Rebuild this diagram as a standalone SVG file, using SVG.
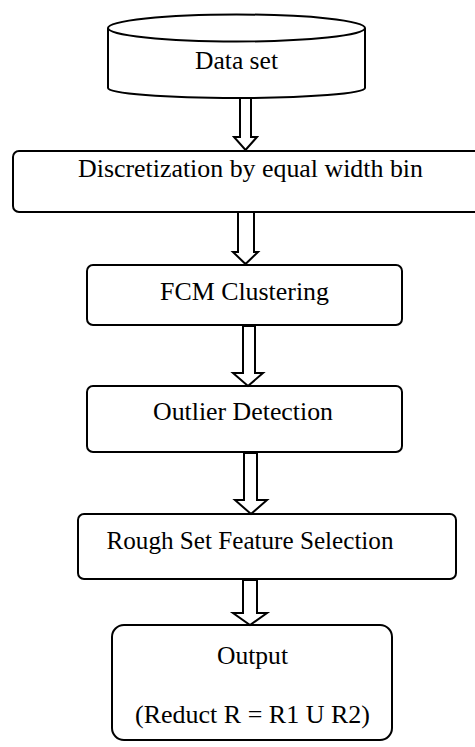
<svg xmlns="http://www.w3.org/2000/svg" width="475" height="747" viewBox="0 0 475 747">
<style>
.box{fill:#fff;stroke:#000;stroke-width:2}
.arr{fill:#fff;stroke:#000;stroke-width:2;stroke-linejoin:miter}
.t{font-family:'Liberation Serif','Times New Roman',Times,serif;font-size:25px;fill:#000;text-anchor:middle}
</style>
<rect width="475" height="747" fill="#fff"/>
<g id="dataset">
<path class="box" d="M108,28 L108,88 A128.5,10 0 0 0 365,88 L365,28"/>
<ellipse class="box" cx="236.5" cy="28" rx="128.5" ry="13.5"/>
<text class="t" x="236.5" y="69" textLength="83" lengthAdjust="spacingAndGlyphs">Data set</text>
</g>
<g id="discretization">
<rect class="box" x="13" y="151" width="470" height="61" rx="6"/>
<text class="t" x="250.5" y="177" textLength="345" lengthAdjust="spacingAndGlyphs">Discretization by equal width bin</text>
</g>
<g id="fcm">
<rect class="box" x="87" y="265" width="315" height="60" rx="6"/>
<text class="t" x="244.5" y="300" textLength="169" lengthAdjust="spacingAndGlyphs">FCM Clustering</text>
</g>
<g id="outlier">
<rect class="box" x="87" y="386" width="315" height="66" rx="6"/>
<text class="t" x="243" y="420" textLength="180" lengthAdjust="spacingAndGlyphs">Outlier Detection</text>
</g>
<g id="roughset">
<rect class="box" x="78" y="514" width="378" height="65" rx="6"/>
<text class="t" x="250" y="549" textLength="287" lengthAdjust="spacingAndGlyphs">Rough Set Feature Selection</text>
</g>
<g id="output">
<rect class="box" x="112" y="625" width="280" height="115" rx="12"/>
<text class="t" x="252.5" y="664" textLength="71" lengthAdjust="spacingAndGlyphs">Output</text>
<text class="t" x="252.5" y="723" textLength="235" lengthAdjust="spacingAndGlyphs">(Reduct R = R1 U R2)</text>
</g>
<g id="connectors">
<polygon class="arr" points="240,98 251,98 251,137 257,137 245.5,150 234,137 240,137"/>
<polygon class="arr" points="238,212 254,212 254,252 258,252 245.5,264 233,252 238,252"/>
<polygon class="arr" points="243,326 255,326 255,373 263,373 248,386 233,373 243,373"/>
<polygon class="arr" points="244,453 257,453 257,500 267,500 251,514 235,500 244,500"/>
<polygon class="arr" points="243,580 257,580 257,613 267,613 250,625 233,613 243,613"/>
</g>
</svg>
